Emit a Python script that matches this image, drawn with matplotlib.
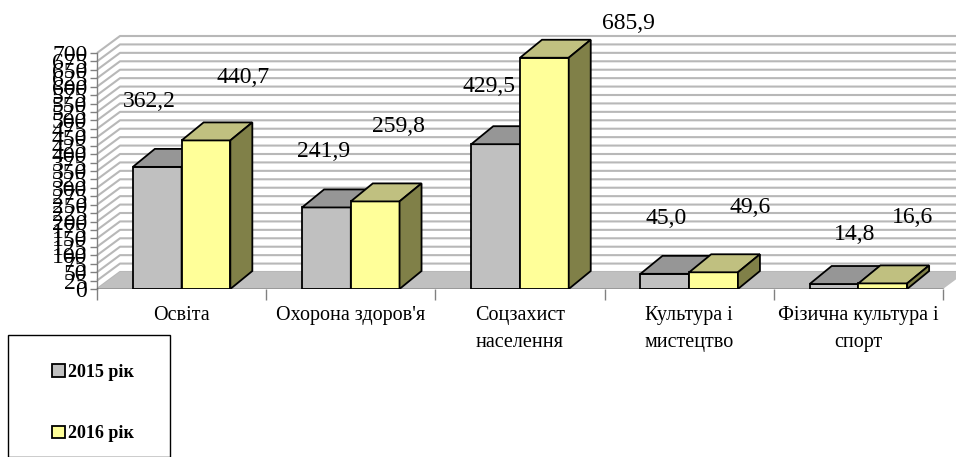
import matplotlib
matplotlib.use("Agg")
import matplotlib.pyplot as plt
from matplotlib.patches import Polygon, Patch, Rectangle
import numpy as np

categories = ["Освіта", "Охорона здоров'я", "Соцзахист\nнаселення",
              "Культура і\nмистецтво", "Фізична культура і\nспорт"]
values_2015 = [362.2, 241.9, 429.5, 45.0, 14.8]
values_2016 = [440.7, 259.8, 685.9, 49.6, 16.6]
series_names = ["2015 рік", "2016 рік"]
label_2015 = ["362,2", "241,9", "429,5", "45,0", "14,8"]
label_2016 = ["440,7", "259,8", "685,9", "49,6", "16,6"]
y_ticks = list(range(0, 701, 25))

# label placement (pixel offsets from the top-centre of each bar's front face)
off_2015 = [(-8, 65), (-3, 56), (-7, 58), (1, 55), (21, 50)]
off_2016 = [(37, 63), (23, 75), (84, 34), (37, 65), (30, 66)]

W, H = 956, 457
fig = plt.figure(figsize=(W / 100, H / 100), dpi=100)
plt.rcParams['font.family'] = ['Liberation Serif', 'DejaVu Serif']

# layout in pixels
x0_px, y0_px = 97, 289
cat_px = 169.2
unit_px = 236 / 700.0
ytop = 760
ax = fig.add_axes([x0_px / W, (H - y0_px) / H, (W - x0_px) / W, ytop * unit_px / H])
xmax = (W - x0_px) / cat_px
ax.set_xlim(0, xmax)
ax.set_ylim(0, ytop)

# depth offsets in data units
ddx = 22 / cat_px
ddy = 18 / unit_px
fdx = 23 / cat_px
fdy = 17 / unit_px

# back wall grid lines + side wall diagonals
for v in y_ticks:
    ax.plot([0, fdx, xmax + 1], [v, v + fdy, v + fdy], color="#b8b8b8", lw=1.5,
            zorder=1, solid_capstyle="butt", clip_on=False)
# floor
floor = Polygon([[0, 0], [5, 0], [5 + fdx, fdy], [fdx, fdy]], closed=True,
                facecolor="#c0c0c0", edgecolor="none", zorder=2)
ax.add_patch(floor)

bw = 0.288

def draw_bar(xl, v, front, top, side):
    xr = xl + bw
    ax.add_patch(Polygon([[xl, 0], [xr, 0], [xr, v], [xl, v]], closed=True,
                         facecolor=front, edgecolor="black", lw=1.3, zorder=3,
                         joinstyle="miter"))
    ax.add_patch(Polygon([[xl, v], [xr, v], [xr + ddx, v + ddy], [xl + ddx, v + ddy]],
                         closed=True, facecolor=top, edgecolor="black", lw=1.3, zorder=3,
                         joinstyle="miter"))
    ax.add_patch(Polygon([[xr, 0], [xr + ddx, ddy], [xr + ddx, v + ddy], [xr, v]],
                         closed=True, facecolor=side, edgecolor="black", lw=1.3, zorder=3,
                         joinstyle="miter"))

for i in range(len(categories)):
    c = i + 0.5
    draw_bar(c - bw, values_2015[i], "#c0c0c0", "#969696", "#808080")
    draw_bar(c, values_2016[i], "#ffff99", "#c0c080", "#808048")

# data labels
pt = 0.72
for i in range(len(categories)):
    c = i + 0.5
    dx, dy = off_2015[i]
    ax.annotate(label_2015[i], (c - bw / 2, values_2015[i]),
                xytext=(dx * pt, dy * pt), textcoords="offset points", ha="center",
                va="center", fontsize=17, zorder=5)
    dx, dy = off_2016[i]
    ax.annotate(label_2016[i], (c + bw / 2, values_2016[i]),
                xytext=(dx * pt, dy * pt), textcoords="offset points", ha="center",
                va="center", fontsize=17, zorder=5)

# axes styling
for s in ["top", "right", "bottom"]:
    ax.spines[s].set_visible(False)
ax.spines["left"].set_bounds(0, 700)
ax.spines["left"].set_color("#808080")
ax.spines["left"].set_linewidth(1.0)
ax.axhline(0, xmin=0, xmax=5 / xmax, color="black", lw=1.0, zorder=4)
ax.set_yticks(y_ticks)
ax.set_yticklabels([str(v) for v in y_ticks], fontsize=17)
ax.tick_params(axis="y", length=5, width=1, color="#808080", pad=2)
ax.set_xticks(np.arange(0, 6))
ax.set_xticklabels([""] * 6)
ax.set_xticks(np.arange(0.5, 5), minor=True)
ax.set_xticklabels(categories, minor=True, fontsize=14.5, linespacing=1.6)
ax.tick_params(axis="x", which="major", length=8, width=1, color="#808080")
ax.tick_params(axis="x", which="minor", length=0, pad=12)
ax.set_facecolor("none")

# legend
fig.add_artist(Rectangle((8 / W, 0), (170 - 8) / W, (H - 335) / H,
                         transform=fig.transFigure, facecolor="white",
                         edgecolor="black", lw=1.0))
handles = [Patch(facecolor="#c0c0c0", edgecolor="black", lw=1.3),
           Patch(facecolor="#ffff99", edgecolor="black", lw=1.3)]
fig.legend(handles, series_names, loc="upper left",
           bbox_to_anchor=(43 / W, (H - 355) / H), frameon=False,
           prop={"family": "Liberation Serif", "weight": "bold", "size": 13},
           handlelength=0.7, handleheight=0.7, handletextpad=0.2,
           labelspacing=2.45, borderpad=0)

fig.savefig("out.png", dpi=100)
